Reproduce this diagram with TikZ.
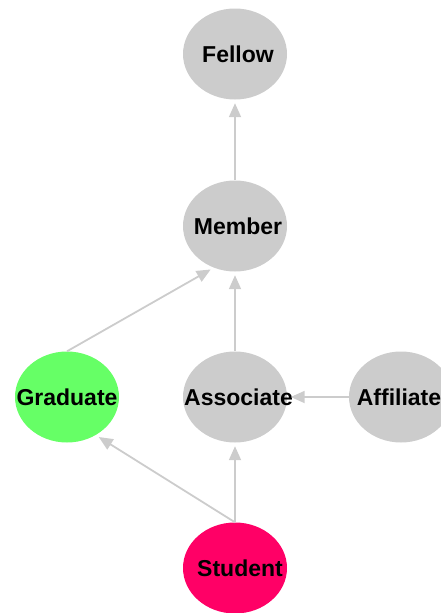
\documentclass[tikz,border=0pt]{standalone}
\usepackage{fontspec}
\setmainfont{Liberation Sans}
\usetikzlibrary{arrows.meta,shapes.geometric}
\definecolor{nodegray}{HTML}{CCCCCC}
\definecolor{gradgreen}{HTML}{66FF66}
\definecolor{studred}{HTML}{FF0066}
\definecolor{edgegray}{HTML}{CCCCCC}
\newcommand{\rolelabel}[2]{\makebox[0pt]{\kern#1pt #2}}
\tikzset{
  role/.style={ellipse, minimum width=104pt, minimum height=91pt, inner sep=0pt,
    fill=nodegray, font=\fontsize{23}{23}\selectfont\bfseries, text=black},
  link/.style={draw=edgegray, line width=1.8pt,
    -{Triangle[length=14pt,width=12pt,fill=edgegray]}, shorten >=3.5pt}
}
\begin{document}
\begin{tikzpicture}[x=1pt,y=-1pt]
\useasboundingbox (0,0) rectangle (441,613);
\node[role] (fel) at (235,54) {\rolelabel{6}{Fellow}};
\node[role] (mem) at (235,226) {\rolelabel{6}{Member}};
\node[role, fill=gradgreen] (grad) at (67,397) {\rolelabel{0}{Graduate}};
\node[role] (assoc) at (235,397) {\rolelabel{7}{Associate}};
\node[role] (aff) at (401,397) {\rolelabel{-4}{Affiliate}};
\node[role, fill=studred] (stu) at (235,568) {\rolelabel{10}{Student}};
\draw[link] (mem.north) -- (fel.south);
\draw[link] (assoc.north) -- (mem.south);
\draw[link] (grad.north) -- (mem.-117);
\draw[link] (stu.north) -- (assoc.south);
\draw[link] (stu.north) -- (grad.-53);
\draw[link] (aff.west) -- (assoc.east);
\end{tikzpicture}
\end{document}
